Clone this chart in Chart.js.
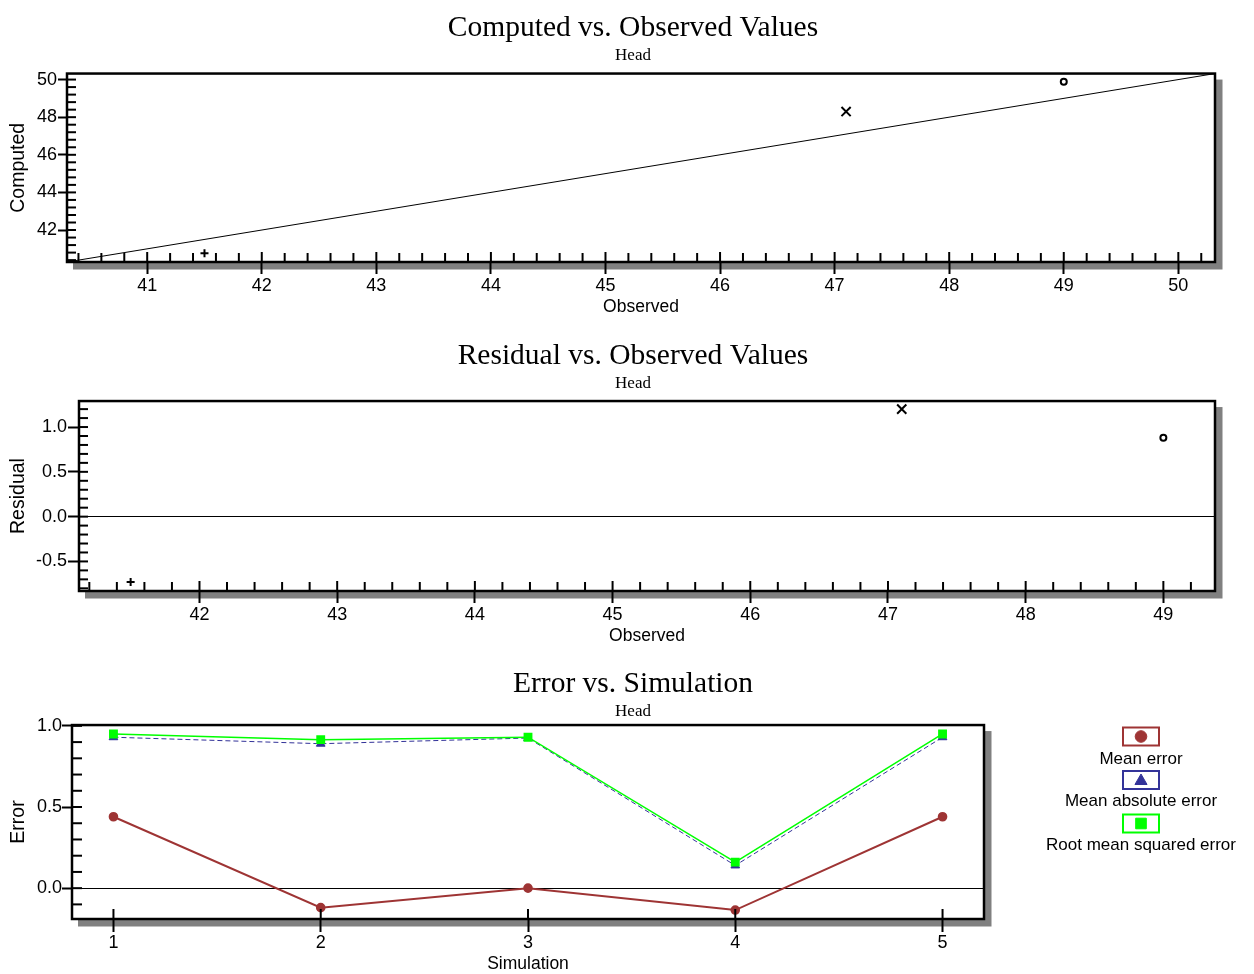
<!DOCTYPE html>
<html><head><meta charset="utf-8">
<script src="https://cdn.jsdelivr.net/npm/chart.js@4.4.1/dist/chart.umd.min.js"></script>
<style>
html,body{margin:0;padding:0;background:#fff;overflow:hidden;width:1254px;height:974px;position:relative;}
canvas{position:absolute;left:0;}
</style></head><body>
<canvas id="c1" width="1266" height="328" style="top:0px"></canvas>
<canvas id="c2" width="1266" height="328" style="top:328px"></canvas>
<canvas id="c3" width="1266" height="318" style="top:656px"></canvas>
<script>
// ---------- data ----------
const observed = [41.5, 47.1, 49.0];
const computed = [40.77, 48.30, 49.88];
const residual = [-0.73, 1.20, 0.88];
const markerStyles = ['cross', 'crossRot', 'circle'];

const simulations = [1, 2, 3, 4, 5];
const meanError = [0.44, -0.12, 0.0, -0.135, 0.44];
const meanAbsError = [0.93, 0.89, 0.925, 0.14, 0.93];
const rmsError = [0.95, 0.915, 0.93, 0.16, 0.95];
const seriesNames = ['Mean error', 'Mean absolute error', 'Root mean squared error'];

// tick labels
const c1XTicks = [41, 42, 43, 44, 45, 46, 47, 48, 49, 50];
const c1YTicks = [42, 44, 46, 48, 50];
const c2XTicks = [42, 43, 44, 45, 46, 47, 48, 49];
const c2YTicks = [-0.5, 0, 0.5, 1.0];
const c2YLabels = ['-0.5', '0.0', '0.5', '1.0'];
const c3XTicks = [1, 2, 3, 4, 5];
const c3YTicks = [0, 0.5, 1.0];
const c3YLabels = ['0.0', '0.5', '1.0'];

const SANS = "'Liberation Sans', Arial, sans-serif";
const SERIF = "'Liberation Serif', 'Times New Roman', serif";

function axis(o) {
  const idx = v => o.majors.findIndex(m => Math.abs(m - v) < 1e-6);
  const isLeft = o.pos === 'left';
  return {
    type: 'linear', position: o.pos, min: o.min, max: o.max,
    afterBuildTicks: s => {
      const vals = [];
      if (o.minorStep) {
        const st = Math.ceil((o.min - 1e-9) / o.minorStep);
        for (let k = st; k * o.minorStep <= o.max + 1e-9; k++) vals.push(+(k * o.minorStep).toFixed(6));
      } else vals.push(...o.majors);
      s.ticks = vals.map(v => ({value: v}));
    },
    afterFit: s => { if (isLeft) s.width = o.size; else s.height = o.size; },
    border: {display: false},
    grid: {
      display: true, drawOnChartArea: !!o.zero, drawTicks: true,
      tickLength: o.tickLen, tickWidth: 2, lineWidth: 1,
      color: c => (o.zero && c.tick && Math.abs(c.tick.value) < 1e-9) ? '#000' : 'rgba(0,0,0,0)',
      tickColor: c => (c.tick && idx(c.tick.value) >= 0) ? '#000' : 'rgba(0,0,0,0)'
    },
    ticks: {
      autoSkip: false, maxRotation: 0, minRotation: 0, padding: o.pad, color: '#000',
      font: {family: SANS, size: 18},
      callback: v => { const i = idx(v); return i < 0 ? '' : (o.labels ? o.labels[i] : String(o.majors[i])); }
    },
    title: {
      display: true, text: o.title, color: '#000',
      font: {family: SANS, size: isLeft ? 19.5 : 17.5},
      padding: isLeft ? {top: 7, bottom: 0} : {top: 0, bottom: o.titlePad}
    }
  };
}
function dummyRight(w) {
  return {type: 'linear', position: 'right', display: true, afterFit: s => { s.width = w; },
    grid: {display: false}, border: {display: false}, ticks: {display: false}, title: {display: false}};
}

const framePlugin = {
  id: 'frame',
  beforeDraw(chart) {
    const {ctx, chartArea: a} = chart;
    ctx.save();
    ctx.fillStyle = '#808080';
    ctx.fillRect(a.left + 6, a.top + 6, a.width + 1.5, a.height + 1.5);
    ctx.fillStyle = '#fff';
    ctx.fillRect(a.left, a.top, a.width, a.height);
    ctx.restore();
  },
  afterDraw(chart, args, opts) {
    const {ctx, chartArea: a} = chart;
    ctx.save();
    ctx.strokeStyle = '#000';
    ctx.lineWidth = 2;
    const xs = chart.scales.x, ys = chart.scales.y;
    for (const t of xs.ticks) {
      const p = xs.getPixelForValue(t.value);
      const len = t.label ? opts.inXMajor : opts.inX;
      ctx.beginPath(); ctx.moveTo(p, a.bottom); ctx.lineTo(p, a.bottom - len); ctx.stroke();
    }
    for (const t of ys.ticks) {
      const p = ys.getPixelForValue(t.value);
      const len = t.label ? opts.inYMajor : opts.inY;
      ctx.beginPath(); ctx.moveTo(a.left, p); ctx.lineTo(a.left + len, p); ctx.stroke();
    }
    ctx.lineWidth = 2.5;
    ctx.strokeRect(a.left, a.top, a.width, a.height);
    ctx.restore();
  }
};

const legendPlugin = {
  id: 'sideLegend',
  afterDraw(chart, args, opts) {
    if (!opts.show) return;
    const ctx = chart.ctx;
    const cx = 1141, boxY = [80.5, 124, 167.5], txtY = [103, 145.5, 189.5];
    ctx.save();
    chart.data.datasets.forEach((ds, i) => {
      ctx.lineWidth = 2;
      ctx.strokeStyle = ds.borderColor;
      ctx.strokeRect(cx - 18, boxY[i] - 9, 36, 18);
      ctx.fillStyle = ds.pointBackgroundColor;
      ctx.strokeStyle = ds.pointBackgroundColor;
      ctx.lineWidth = 1;
      Chart.helpers.drawPoint(ctx, {pointStyle: ds.pointStyle, radius: opts.radii[i], borderWidth: 1, rotation: 0},
        cx, boxY[i] + (ds.pointStyle === 'triangle' ? 1 : 0));
      ctx.fillStyle = '#000';
      ctx.font = "17px " + SANS;
      ctx.textAlign = 'center'; ctx.textBaseline = 'middle';
      ctx.fillText(ds.label, cx, txtY[i]);
    });
    ctx.restore();
  }
};

function titles(main, bottomPad) {
  return {
    title: {display: true, text: main, color: '#000', font: {family: SERIF, size: 29.5, weight: 'normal', lineHeight: 1.1}, padding: {top: 11.8, bottom: 0}},
    subtitle: {display: true, text: 'Head', color: '#000', font: {family: SERIF, size: 17, weight: 'normal'}, padding: {top: 0.6, bottom: bottomPad}}
  };
}

const common = {responsive: false, animation: false, events: [], layout: {padding: 0}};

// ---------- Chart 1 ----------
const c1Min = 40.3, c1Max = 50.32;
new Chart(document.getElementById('c1'), {
  type: 'scatter',
  data: {datasets: [
    {label: 'Observations', data: observed.map((x, i) => ({x: x, y: computed[i]})),
     pointStyle: markerStyles, pointRadius: [4, 6.5, 3], pointBorderWidth: 2,
     borderColor: '#000', pointBorderColor: '#000', pointBackgroundColor: '#fff', showLine: false},
    {label: '1:1', data: [{x: c1Min, y: c1Min}, {x: c1Max, y: c1Max}], showLine: true,
     borderColor: '#000', borderWidth: 1, pointRadius: 0}
  ]},
  options: Object.assign({}, common, {
    plugins: Object.assign({legend: {display: false}, tooltip: {enabled: false},
      frame: {inX: 9, inXMajor: 10, inY: 9, inYMajor: 9}, sideLegend: {show: false}},
      titles('Computed vs. Observed Values', 8.3)),
    scales: {
      x: axis({pos: 'bottom', min: c1Min, max: c1Max, majors: c1XTicks, minorStep: 0.2, size: 66, tickLen: 12, pad: 1, title: 'Observed', titlePad: 10.6}),
      y: axis({pos: 'left', min: c1Min, max: c1Max, majors: c1YTicks, minorStep: 0.4, size: 67, tickLen: 9, pad: 1, title: 'Computed'}),
      yR: dummyRight(51)
    }
  }),
  plugins: [framePlugin, legendPlugin]
});

// ---------- Chart 2 ----------
new Chart(document.getElementById('c2'), {
  type: 'scatter',
  data: {datasets: [
    {label: 'Residuals', data: observed.map((x, i) => ({x: x, y: residual[i]})),
     pointStyle: markerStyles, pointRadius: [4, 6.5, 3], pointBorderWidth: 2,
     borderColor: '#000', pointBorderColor: '#000', pointBackgroundColor: '#fff', showLine: false}
  ]},
  options: Object.assign({}, common, {
    plugins: Object.assign({legend: {display: false}, tooltip: {enabled: false},
      frame: {inX: 9, inXMajor: 10, inY: 9, inYMajor: 9}, sideLegend: {show: false}},
      titles('Residual vs. Observed Values', 7.8)),
    scales: {
      x: axis({pos: 'bottom', min: 41.125, max: 49.375, majors: c2XTicks, minorStep: 0.2, size: 65, tickLen: 12, pad: 1, title: 'Observed', titlePad: 9.6}),
      y: axis({pos: 'left', min: -0.83, max: 1.29, majors: c2YTicks, labels: c2YLabels, minorStep: 0.1, size: 79, tickLen: 11, pad: 1, title: 'Residual', zero: true}),
      yR: dummyRight(51)
    }
  }),
  plugins: [framePlugin, legendPlugin]
});

// ---------- Chart 3 ----------
new Chart(document.getElementById('c3'), {
  type: 'scatter',
  data: {datasets: [
    {label: seriesNames[0], data: simulations.map((s, i) => ({x: s, y: meanError[i]})), showLine: true,
     borderColor: '#9e3434', borderWidth: 2, pointStyle: 'circle', pointRadius: 3.8,
     pointBackgroundColor: '#9e3434', pointBorderColor: '#9e3434', order: 2},
    {label: seriesNames[1], data: simulations.map((s, i) => ({x: s, y: meanAbsError[i]})), showLine: true,
     borderColor: '#333399', borderWidth: 1, borderDash: [5, 3], pointStyle: 'triangle', pointRadius: 5,
     pointBackgroundColor: '#333399', pointBorderColor: '#333399', order: 1},
    {label: seriesNames[2], data: simulations.map((s, i) => ({x: s, y: rmsError[i]})), showLine: true,
     borderColor: '#00ff00', borderWidth: 1.5, pointStyle: 'rect', pointRadius: 5.2,
     pointBackgroundColor: '#00ff00', pointBorderColor: '#00ff00', order: 0}
  ]},
  options: Object.assign({}, common, {
    plugins: Object.assign({legend: {display: false}, tooltip: {enabled: false},
      frame: {inX: 10, inXMajor: 10, inY: 10, inYMajor: 10}, sideLegend: {show: true, radii: [5.8, 7, 7.5]}},
      titles('Error vs. Simulation', 3.8)),
    scales: {
      x: axis({pos: 'bottom', min: 0.8, max: 5.2, majors: c3XTicks, minorStep: 0, size: 55, tickLen: 13, pad: 0, title: 'Simulation', titlePad: -0.2}),
      y: axis({pos: 'left', min: -0.19, max: 1.005, majors: c3YTicks, labels: c3YLabels, minorStep: 0.1, size: 72, tickLen: 10, pad: 0, title: 'Error', zero: true}),
      yR: dummyRight(282)
    }
  }),
  plugins: [framePlugin, legendPlugin]
});
</script>
</body></html>
